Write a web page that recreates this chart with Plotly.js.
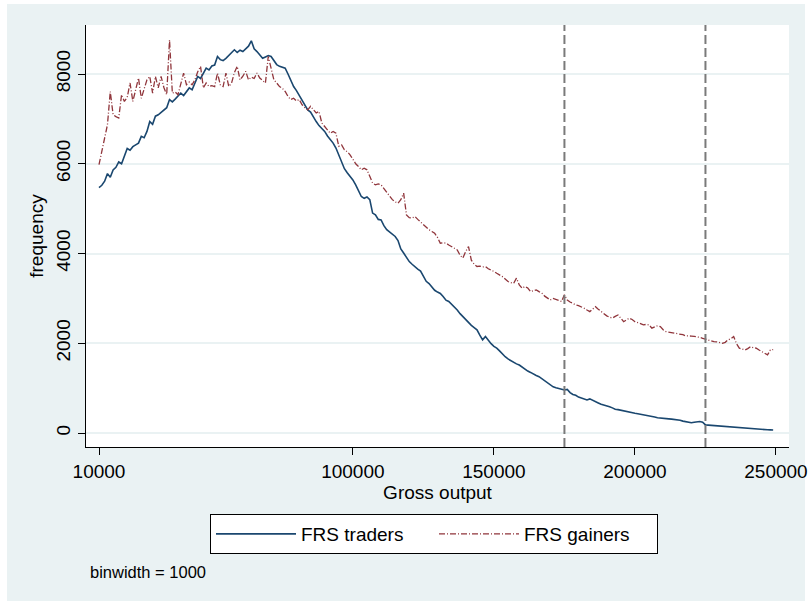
<!DOCTYPE html>
<html>
<head>
<meta charset="utf-8">
<script src="https://cdn.plot.ly/plotly-3.0.1.min.js"></script>
<style>html,body{margin:0;padding:0;background:#fff;}#chart{width:811px;height:605px;}</style>
</head>
<body>
<div id="chart"></div>
<script>
// Bins: start 10000, width 1000
const binStart = 10000;
const binWidth = 1000;

const tradersFreq = [
5470,5520,5610,5780,5700,5860,5920,6040,6000,6150,
6340,6300,6380,6420,6460,6610,6580,6720,6940,6880,
7060,7090,7140,7200,7250,7430,7380,7440,7500,7575,
7520,7610,7690,7650,7780,7945,7900,8010,8130,8090,
8180,8200,8390,8320,8300,8350,8420,8470,8540,8480,
8530,8500,8560,8620,8740,8560,8500,8420,8350,8380,
8410,8390,8300,8210,8170,8150,8130,8000,7850,7720,
7630,7520,7430,7330,7200,7150,7030,6940,6850,6780,
6720,6620,6540,6460,6350,6200,6010,5890,5800,5720,
5640,5530,5400,5270,5230,5260,5200,4900,4860,4760,
4750,4620,4530,4480,4430,4380,4290,4100,4010,3900,
3820,3760,3700,3650,3610,3480,3380,3330,3260,3180,
3140,3110,3040,2960,2930,2870,2790,2740,2660,2590,
2520,2470,2400,2350,2300,2180,2075,2150,2060,1990,
1930,1890,1830,1760,1700,1650,1610,1580,1540,1515,
1470,1405,1380,1350,1310,1280,1255,1210,1170,1120,
1070,1030,1010,990,975,960,970,900,860,840,
800,780,745,735,760,735,700,670,640,625,
600,585,560,530,520,505,490,470,455,450,
440,430,420,410,400,385,370,355,340,330,
335,325,315,310,305,300,285,265,250,235,
230,240,245,255,240,180,175,170,165,158,
155,150,140,135,130,125,118,110,105,98,
92,88,85,82,80,78,75,72,70,68
];

const gainersFreq = [
5980,6270,6570,6870,7610,7090,7050,7020,7540,7390,
7480,7800,7390,7650,7910,7460,7650,7870,7945,7575,
7945,7690,7945,7700,7540,8760,7575,7600,7540,7800,
8020,7760,7820,7760,7870,8050,8170,7690,7800,7720,
7740,7720,8020,7760,7720,8020,7720,7800,8030,8170,
7870,7950,8060,7870,7930,7900,8020,7910,7850,7800,
8390,8100,7870,7800,7720,7680,7610,7500,7430,7460,
7400,7430,7315,7250,7200,7280,7200,7130,7165,6905,
6830,6750,6680,6720,6680,6390,6420,6310,6270,6200,
6090,6000,5940,5865,5900,5865,5720,5570,5530,5550,
5530,5450,5380,5280,5200,5150,5120,5200,5345,4860,
4800,4790,4825,4760,4700,4640,4580,4530,4490,4450,
4360,4230,4240,4230,4190,4155,4120,4080,3960,3900,
4045,4155,3850,3760,3710,3720,3700,3710,3660,3635,
3600,3560,3530,3485,3430,3375,3350,3335,3450,3300,
3225,3265,3230,3150,3170,3190,3150,3115,3050,3000,
2965,3000,2980,2950,2930,3080,2965,2920,2880,2855,
2840,2815,2780,2740,2705,2760,2815,2760,2705,2660,
2610,2580,2560,2600,2630,2560,2480,2520,2560,2530,
2480,2460,2430,2410,2420,2410,2335,2360,2390,2370,
2300,2260,2250,2240,2220,2210,2200,2190,2165,2170,
2160,2155,2150,2130,2110,2090,2070,2050,2035,2030,
2010,2000,2020,2075,2100,2150,1990,1890,1870,1850,
1880,1925,1900,1890,1850,1815,1780,1740,1850,1860
];

const xTickVals = [10000, 100000, 150000, 200000, 250000];
const xTickText = ['10000', '100000', '150000', '200000', '250000'];
const yTickVals = [0, 2000, 4000, 6000, 8000];
const refLines = [175000, 225000];

const seriesNames = ['FRS traders', 'FRS gainers'];
const xTitle = 'Gross output';
const yTitle = 'frequency';
const noteText = 'binwidth = 1000';

const binX = tradersFreq.map((_, i) => binStart + i * binWidth);

const FONT = 'Liberation Sans, Arial, sans-serif';
const BG = '#eaf2f3';

const traces = [
  {x: binX, y: tradersFreq, type: 'scatter', mode: 'lines', name: seriesNames[0],
   line: {color: '#1a476f', width: 1.6}},
  {x: binX.slice(0, gainersFreq.length), y: gainersFreq, type: 'scatter', mode: 'lines', name: seriesNames[1],
   line: {color: '#90353b', width: 1.3, dash: '6px,2px,1px,2px'}}
];

const W = 703, H = 422, L = 86, T = 25;
function px2paperX(p){ return (p - L) / W; }
function px2paperY(p){ return (T + H - p) / H; }

const shapes = refLines.map(v => ({
  type: 'line', xref: 'x', yref: 'paper', x0: v, x1: v, y0: 0, y1: 1,
  line: {color: '#7a7a7a', width: 2, dash: '9px,4px'}, layer: 'above'
}));
// white frame at image edges
[[0,0,7,605],[0,0,811,4],[805,0,811,605],[0,601,811,605]].forEach(r => {
  shapes.push({type: 'rect', xref: 'paper', yref: 'paper',
    x0: px2paperX(r[0]), x1: px2paperX(r[2]), y0: px2paperY(r[3]), y1: px2paperY(r[1]),
    fillcolor: '#ffffff', line: {width: 0}, layer: 'below'});
});

const layout = {
  width: 811, height: 605,
  margin: {l: 86, r: 22, t: 25, b: 158, pad: 0},
  paper_bgcolor: BG, plot_bgcolor: '#ffffff',
  font: {family: FONT, size: 19, color: '#000'},
  showlegend: true,
  xaxis: {
    range: [5391, 254615], tickmode: 'array', tickvals: xTickVals, ticktext: xTickText,
    ticks: 'outside', ticklen: 7, tickwidth: 1, tickcolor: '#000',
    showline: true, linecolor: '#000', linewidth: 1, showgrid: false, zeroline: false,
    tickfont: {size: 19, family: FONT},
    title: {text: xTitle, font: {size: 19, family: FONT}, standoff: 2},
    automargin: false, fixedrange: true
  },
  yaxis: {
    range: [-312, 9092], tickmode: 'array', tickvals: yTickVals,
    ticks: 'outside', ticklen: 7, tickwidth: 1, tickcolor: '#000', tickangle: -90,
    showline: true, linecolor: '#000', linewidth: 1,
    showgrid: true, gridcolor: BG, gridwidth: 2, zeroline: false,
    tickfont: {size: 19, family: FONT},
    title: {text: yTitle, font: {size: 19, family: FONT}, standoff: 4},
    automargin: false, fixedrange: true
  },
  legend: {
    orientation: 'h', x: px2paperX(210), xanchor: 'left', y: px2paperY(514), yanchor: 'top',
    bgcolor: '#ffffff', bordercolor: '#000', borderwidth: 1,
    font: {size: 19, family: FONT}, itemwidth: 80, entrywidth: 128, entrywidthmode: 'pixels'
  },
  shapes: shapes,
  annotations: [{
    text: noteText, xref: 'paper', yref: 'paper', x: px2paperX(88), y: px2paperY(572),
    xanchor: 'left', yanchor: 'middle', showarrow: false, font: {size: 16.5, family: FONT}
  }]
};

Plotly.newPlot('chart', traces, layout, {displayModeBar: false, staticPlot: true});
</script>
</body>
</html>
